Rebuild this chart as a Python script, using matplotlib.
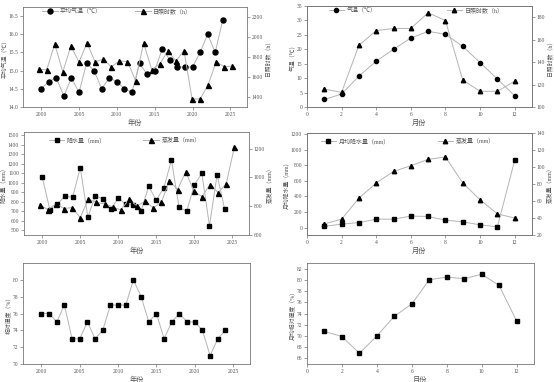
import numpy as np
import matplotlib
matplotlib.use("Agg")
import matplotlib.pyplot as plt

plt.rcParams['font.family'] = ['Liberation Serif', 'Noto Sans CJK SC']
plt.rcParams['axes.unicode_minus'] = False

# data
years = list(range(2000, 2025))
months = list(range(1, 13))

temp_year = [14.5, 14.7, 14.8, 14.3, 14.8, 14.4, 15.2, 15.0, 14.5, 14.8, 14.7, 14.5, 14.4,
             15.2, 14.9, 15.0, 15.6, 15.3, 15.1, 15.1, 15.1, 15.5, 16.0, 15.5, 16.4]
sun_year = [1680, 1670, 1930, 1650, 1910, 1750, 1940, 1750, 1780, 1700, 1760, 1755, 1565,
            1940, 1675, 1730, 1860, 1760, 1865, 1380, 1380, 1525, 1755, 1700, 1710]

temp_month = [2.6, 4.5, 10.7, 15.9, 20.0, 23.9, 26.2, 25.2, 21.0, 15.4, 9.7, 3.9]
sun_month = [116, 113, 155, 168, 170, 170, 184, 177, 124, 114, 114, 123]

prec_year = [1060, 717, 777, 861, 846, 1158, 640, 861, 830, 721, 837, 774, 767,
             700, 961, 816, 947, 1239, 742, 700, 975, 1098, 546, 1084, 721]
evap_year = [809, 777, 816, 784, 791, 721, 849, 826, 816, 795, 774, 847, 802,
             835, 788, 828, 977, 916, 1040, 905, 867, 951, 895, 958, 1212]

prec_month = [17, 43, 65, 108, 108, 147, 143, 95, 74, 35, 9, 863]
evap_month = [33, 38.7, 63.3, 81.2, 94.8, 101.5, 109, 111.8, 81.2, 61.4, 44.8, 40]

rh_year = [76, 76, 75, 77, 73, 73, 75, 73, 74, 77, 77, 77, 80, 78, 75, 76, 73, 75,
           76, 75, 75, 74, 71, 73, 74]
rh_month = [70.8, 69.9, 66.9, 70.0, 73.5, 75.7, 80.0, 80.5, 80.2, 81.0, 79.0, 72.7]

W, H = 554, 382
LINE = '#b4b4b4'
TXT = '#555555'
SPINE = '#777777'

fig = plt.figure(figsize=(W / 100, H / 100), dpi=100)


def rect(l, r, t, b):
    return [l / W, 1 - b / H, (r - l) / W, (b - t) / H]


def style(ax):
    for s in ax.spines.values():
        s.set_color(SPINE)
        s.set_linewidth(0.6)
    ax.tick_params(direction='out', length=2, width=0.5, colors=SPINE,
                   labelsize=4, labelcolor=TXT, pad=1.5)


def line(ax, x, y, marker, ms, label):
    return ax.plot(x, y, color=LINE, lw=0.7, marker=marker, ms=ms,
                   mfc='black', mec='black', label=label)[0]


def legends(ax, ax2, h1, h2, x1, x2, y):
    kw = dict(frameon=False, fontsize=4.3, handlelength=2.6, handletextpad=0.4,
              borderaxespad=0, labelcolor=TXT, numpoints=1)
    ax.legend(handles=[h1], loc='center left', bbox_to_anchor=(x1, y), **kw)
    ax2.legend(handles=[h2], loc='center left', bbox_to_anchor=(x2, y), **kw)


def year_panel(r, twin):
    ax = fig.add_axes(r)
    ax.set_xlim(1997.6, 2027.2)
    ax.set_xticks(range(2000, 2026, 5))
    style(ax)
    ax.tick_params(right=False)
    ax.set_xlabel('年份', fontsize=5.2, color=TXT, labelpad=1.5)
    ax2 = None
    if twin:
        # second layer with its own x scale, as in the original
        ax2 = fig.add_axes(r, facecolor='none')
        ax2.set_xlim(1998.07, 2025.8)
        ax2.xaxis.set_visible(False)
        ax2.yaxis.tick_right()
        ax2.yaxis.set_label_position('right')
        style(ax2)
        for s in ax2.spines.values():
            s.set_visible(False)
    return ax, ax2


def month_panel(r, twin):
    ax = fig.add_axes(r)
    ax.set_xlim(0, 13)
    ax.set_xticks(range(0, 13, 2))
    style(ax)
    ax.tick_params(right=False)
    ax.set_xlabel('月份', fontsize=5.2, color=TXT, labelpad=1.5)
    ax2 = None
    if twin:
        ax2 = ax.twinx()
        style(ax2)
    return ax, ax2


def ylab(ax, text):
    ax.set_ylabel(text, fontsize=4.2, color=TXT, labelpad=1)


# panel 1: annual temperature / sunshine
ax, ax2 = year_panel(rect(23, 247, 7, 107), True)
h1 = line(ax, years, temp_year, 'o', 3.6, '平均气温（℃）')
h2 = line(ax2, years, sun_year, '^', 3.6, '日照时数（h）')
ax.set_ylim(14.0, 16.75)
ax.set_yticks(np.arange(14.0, 16.6, 0.5))
ax.yaxis.set_major_formatter('{x:.1f}')
ax2.set_ylim(1300, 2300)
ax2.set_yticks(range(1400, 2201, 200))
ylab(ax, '平均气温（℃）')
ylab(ax2, '日照时数（h）')
legends(ax, ax2, h1, h2, 0.075, 0.49, 0.955)

# panel 2: monthly temperature / sunshine
ax, ax2 = month_panel(rect(307, 532, 6, 107), True)
h1 = line(ax, months, temp_month, 'o', 3.0, '气温（℃）')
h2 = line(ax2, months, sun_month, '^', 3.2, '日照时数（h）')
ax.set_ylim(0, 35)
ax.set_yticks(range(0, 36, 5))
ax2.set_ylim(100, 190)
ax2.set_yticks(range(100, 181, 20))
ylab(ax, '气温（℃）')
ylab(ax2, '日照时数（h）')
legends(ax, ax2, h1, h2, 0.085, 0.61, 0.955)

# panel 3: annual precipitation / evaporation
ax, ax2 = year_panel(rect(24, 249, 132, 235), True)
h1 = line(ax, years, prec_year, 's', 3.0, '降水量（mm）')
h2 = line(ax2, years, evap_year, '^', 3.6, '蒸发量（mm）')
ax.set_ylim(451, 1532)
ax.set_yticks(range(500, 1501, 100))
ax2.set_ylim(600, 1316)
ax2.set_yticks(range(600, 1201, 200))
ylab(ax, '降水量（mm）')
ylab(ax2, '蒸发量（mm）')
legends(ax, ax2, h1, h2, 0.10, 0.52, 0.92)

# panel 4: monthly precipitation / evaporation
ax, ax2 = month_panel(rect(307, 532, 133, 235), True)
h1 = line(ax, months, prec_month, 's', 2.8, '月均降水量（mm）')
h2 = line(ax2, months, evap_month, '^', 3.2, '蒸发量（mm）')
ax.set_ylim(-95, 1213)
ax.set_yticks(range(0, 1201, 200))
ax2.set_ylim(20, 140)
ax2.set_yticks(range(20, 141, 20))
ylab(ax, '月均降水量（mm）')
ylab(ax2, '蒸发量（mm）')
legends(ax, ax2, h1, h2, 0.05, 0.57, 0.92)

# panel 5: annual relative humidity
ax, _ = year_panel(rect(23, 250, 263, 364), False)
line(ax, years, rh_year, 's', 3.0, None)
ax.set_ylim(70, 82)
ax.set_yticks(range(70, 81, 2))
ylab(ax, '相对湿度（%）')

# panel 6: monthly relative humidity
ax, _ = month_panel(rect(307, 534, 263, 364), False)
line(ax, months, rh_month, 's', 3.0, None)
ax.set_ylim(65, 83)
ax.set_yticks(range(66, 83, 2))
ylab(ax, '月均相对湿度（%）')

fig.savefig('out.png', dpi=100)
